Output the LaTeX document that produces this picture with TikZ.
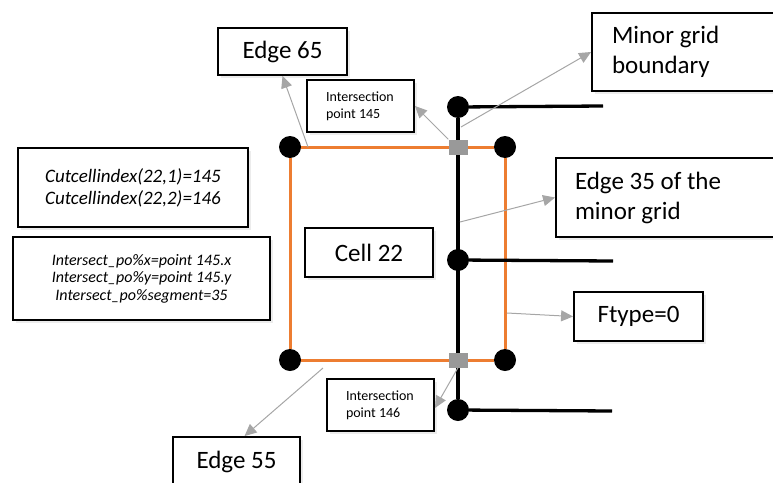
\documentclass[tikz,border=0pt]{standalone}
\usepackage{fontspec}
\setmainfont{Carlito}
\usetikzlibrary{arrows.meta,shadows}
\definecolor{cellorange}{HTML}{ED7D31}
\colorlet{pointer}{black!35}

\begin{document}
\begin{tikzpicture}[x=1pt,y=-1pt]
\tikzset{
  box/.style={draw, line width=1.9pt, fill=white, inner sep=0pt, align=center,
    drop shadow={shadow xshift=3pt, shadow yshift=-3pt, opacity=0.15}},
  left box/.style={box, align=left, inner xsep=19pt},
  big/.style={font=\fontsize{25}{30}\selectfont},
  small/.style={font=\fontsize{14}{17}\selectfont},
  grid point/.style={circle, fill=black, minimum size=22pt, inner sep=0pt},
  cut point/.style={rectangle, fill=black!40, minimum width=19pt, minimum height=15pt, inner sep=0pt},
  pointer/.style={draw=pointer, line width=1pt, -{Triangle[length=12pt,width=11pt]}}
}
\useasboundingbox (0,0) rectangle (773,482);

% cell 22 and the minor grid line
\node[grid point] (c1) at (290,147) {};
\node[grid point] (c2) at (505,147) {};
\node[grid point] (c3) at (505,360) {};
\node[grid point] (c4) at (290,360) {};
\draw[cellorange, line width=3pt] (c1) -- (c2) -- (c3) -- (c4) -- (c1);

\node[grid point] (v1) at (458,107) {};
\node[grid point] (v2) at (458,260) {};
\node[grid point] (v3) at (458,410) {};
\coordinate (h1) at (603,106);
\coordinate (h2) at (613,261);
\coordinate (h3) at (612,411);
\draw[line width=3.3pt] (v1) -- (v3);
\draw[line width=3.3pt] (v1) -- (h1);
\draw[line width=3.3pt] (v2) -- (h2);
\draw[line width=3.3pt] (v3) -- (h3);
\node[cut point] (s1) at (458,147) {};
\node[cut point] (s2) at (458,360) {};

% labels
\node[box, big, minimum width=129pt, minimum height=47pt] (edge65) at (282.5,51.5) {Edge 65};
\node[left box, small, text width=69pt, minimum height=52pt] (ip145) at (360.5,106) {\spaceskip0pt Intersection\\point 145};
\node[left box, big, inner xsep=20pt, text width=142pt, minimum height=78pt] (minor) at (683,52) {\spaceskip0pt Minor grid\\boundary};
\node[left box, big, text width=180pt, minimum height=79pt] (edge35) at (665,197.5) {\spaceskip0pt Edge 35 of the\\minor grid};
\node[box, big, minimum width=129pt, minimum height=49pt] (ftype) at (638.5,316.5) {Ftype=0};
\node[box, big, minimum width=128pt, minimum height=49pt] (cell) at (369,252.5) {Cell 22};
\node[box, font=\fontsize{19}{22}\selectfont\itshape, minimum width=230pt, minimum height=79pt] (cutcell) at (133,187.5)
  {Cutcellindex(22,1)=145\\Cutcellindex(22,2)=146};
\node[box, font=\fontsize{16}{17.5}\selectfont\itshape, minimum width=257pt, minimum height=83pt] (intersect) at (141.5,278.5)
  {Intersect\_po\%x=point 145.x\\Intersect\_po\%y=point 145.y\\Intersect\_po\%segment=35};
\node[left box, small, text width=69pt, minimum height=52pt] (ip146) at (380.5,405) {\spaceskip0pt Intersection\\point 146};
\node[box, big, minimum width=127pt, minimum height=50pt] (edge55) at (236.5,462) {Edge 55};

% pointers
\coordinate (a65) at (308,147);
\coordinate (amg) at (461,127);
\coordinate (a35) at (460,222);
\coordinate (aft) at (507,313);
\coordinate (a55) at (323,368);
\draw[pointer] (a65) -- (edge65.south);
\draw[pointer] (s1.north west) -- (ip145.east);
\draw[pointer] (amg) -- (minor.west);
\draw[pointer] (a35) -- (edge35.west);
\draw[pointer] (aft) -- (ftype.west);
\draw[pointer] (a55) -- ([xshift=8pt]edge55.north);
\draw[pointer] (s2.south) -- ([yshift=-3pt]ip146.east);
\end{tikzpicture}
\end{document}
